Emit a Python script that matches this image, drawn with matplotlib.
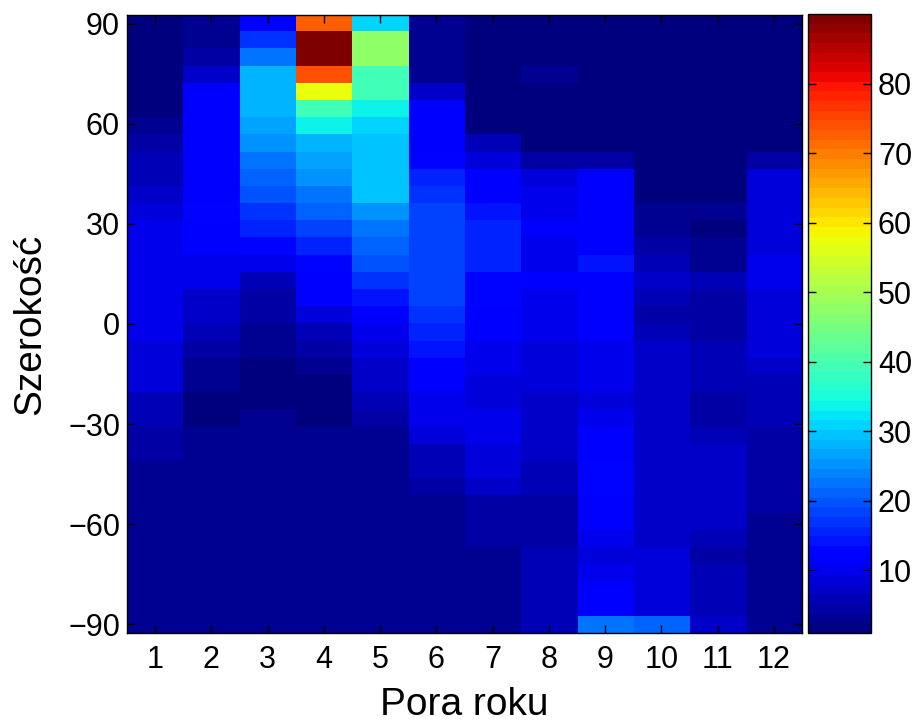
import numpy as np
import matplotlib
matplotlib.use('Agg')
from matplotlib import pyplot as plt

plt.rcParams['font.family'] = ['Liberation Sans', 'DejaVu Sans']

# months (columns) and latitude rows, top row = 90, bottom row = -90
months = list(range(1, 13))
lats = np.linspace(90, -90, 36)
yticks = [-90, -60, -30, 0, 30, 60, 90]
cticks = [10, 20, 30, 40, 50, 60, 70, 80]

# counts per latitude band (rows, 90 -> -90) and month (cols 1..12)
vals = np.array([
    [1.5, 2.5, 11.0, 72.5, 31.5, 2.5, 1.5, 1.5, 1.5, 1.5, 1.5, 1.5],
    [1.5, 3.5, 16.5, 90.0, 47.5, 3.0, 1.5, 1.5, 1.5, 1.5, 1.5, 1.5],
    [1.5, 5.0, 23.0, 89.0, 47.5, 3.0, 1.5, 1.5, 1.5, 1.5, 1.5, 1.5],
    [1.5, 7.5, 28.8, 74.0, 39.0, 3.0, 1.5, 3.5, 1.5, 1.5, 1.5, 1.5],
    [1.5, 12.0, 28.8, 58.0, 39.0, 7.0, 1.5, 1.5, 1.5, 1.5, 1.5, 1.5],
    [1.5, 12.0, 28.0, 39.0, 34.0, 11.0, 1.5, 1.5, 1.5, 1.5, 1.5, 1.5],
    [2.5, 12.0, 26.5, 34.0, 30.5, 11.0, 2.0, 1.5, 1.5, 1.5, 1.5, 1.5],
    [4.0, 12.0, 25.5, 28.8, 29.0, 11.0, 5.5, 1.5, 1.5, 1.5, 1.5, 1.5],
    [5.5, 12.0, 23.0, 27.0, 29.0, 13.0, 9.0, 4.0, 5.0, 1.5, 1.5, 4.5],
    [6.5, 12.0, 21.5, 25.5, 29.0, 15.5, 12.0, 9.0, 11.5, 1.5, 1.5, 8.5],
    [7.5, 12.0, 20.0, 23.0, 29.0, 16.5, 12.0, 9.5, 12.0, 1.5, 1.5, 8.5],
    [9.0, 12.5, 17.5, 21.0, 26.0, 18.0, 14.0, 10.5, 11.5, 3.5, 2.5, 8.5],
    [9.5, 12.0, 15.0, 18.0, 23.0, 18.0, 15.0, 11.0, 12.0, 2.5, 1.5, 9.0],
    [9.5, 11.0, 12.5, 15.0, 20.5, 18.0, 15.0, 9.5, 12.0, 5.0, 2.5, 9.0],
    [9.5, 10.5, 10.5, 13.5, 20.0, 19.0, 15.0, 9.5, 14.0, 6.0, 3.5, 9.5],
    [9.5, 10.0, 6.0, 12.0, 17.0, 19.0, 12.5, 11.0, 12.0, 7.0, 5.5, 9.5],
    [9.5, 7.5, 5.0, 11.0, 14.5, 18.0, 12.5, 10.0, 12.0, 6.0, 5.0, 9.0],
    [9.5, 7.0, 5.0, 8.0, 12.0, 17.0, 12.0, 9.5, 12.0, 5.0, 4.0, 8.5],
    [9.5, 5.5, 3.5, 6.5, 10.0, 16.0, 11.5, 9.5, 12.0, 5.5, 4.5, 8.0],
    [9.0, 4.5, 2.5, 4.0, 8.5, 14.5, 10.5, 9.0, 10.0, 7.0, 6.0, 8.0],
    [9.0, 3.0, 2.0, 2.5, 7.5, 12.0, 10.5, 8.5, 9.5, 7.0, 6.0, 7.5],
    [8.5, 3.0, 1.5, 1.5, 7.0, 11.0, 9.0, 9.0, 9.5, 7.0, 6.0, 6.5],
    [6.0, 2.0, 2.0, 1.5, 6.0, 10.0, 9.0, 7.5, 9.0, 7.0, 5.0, 6.0],
    [6.0, 2.0, 3.5, 2.0, 5.0, 10.0, 9.5, 7.5, 10.0, 7.0, 5.0, 5.5],
    [5.0, 2.5, 2.5, 2.5, 2.5, 9.0, 10.0, 7.0, 11.0, 7.0, 6.0, 5.0],
    [4.5, 2.5, 2.5, 2.5, 2.5, 6.0, 9.0, 7.5, 12.0, 7.5, 7.0, 4.5],
    [3.0, 2.5, 2.5, 2.5, 2.5, 5.5, 8.5, 6.0, 12.5, 7.5, 7.0, 4.5],
    [3.0, 2.5, 2.5, 2.5, 2.5, 4.0, 7.0, 6.0, 12.5, 7.5, 7.0, 4.5],
    [3.0, 2.5, 2.5, 2.5, 2.5, 3.0, 5.0, 5.0, 12.0, 7.5, 7.0, 4.5],
    [3.0, 2.5, 2.5, 2.5, 2.5, 2.5, 4.0, 5.0, 11.0, 7.0, 7.0, 3.5],
    [3.0, 2.5, 2.5, 2.5, 2.5, 2.5, 4.0, 5.0, 9.5, 7.5, 6.5, 2.5],
    [3.0, 2.5, 2.5, 2.5, 2.5, 2.5, 3.0, 5.5, 9.0, 8.5, 5.0, 2.5],
    [3.0, 2.5, 2.5, 2.5, 2.5, 2.5, 3.0, 5.5, 10.0, 8.5, 5.5, 2.5],
    [3.0, 2.5, 2.5, 2.5, 2.5, 2.5, 3.0, 5.5, 11.5, 9.0, 5.5, 2.5],
    [3.0, 2.5, 2.5, 2.5, 2.5, 2.5, 3.0, 5.5, 12.0, 9.0, 5.5, 2.5],
    [3.0, 2.5, 2.5, 2.5, 2.5, 2.5, 3.0, 5.5, 23.0, 20.5, 7.0, 2.5],
])

cmap = plt.get_cmap('jet', 64)
dy = (lats[0] - lats[1]) / 2

fig = plt.figure(figsize=(9.18, 7.27), dpi=100)
ax = fig.add_axes([0.1383, 0.1293, 0.7353, 0.8501])
im = ax.imshow(vals, cmap=cmap, vmin=1, vmax=90, aspect='auto', interpolation='nearest',
               extent=[months[0] - 0.5, months[-1] + 0.5, lats[-1] - dy, lats[0] + dy])

ax.set_xticks(months)
ax.set_yticks(yticks)
ax.tick_params(direction='in', top=True, right=True, length=6, width=1,
               labelsize=22, pad=9)
ax.tick_params(axis='y', pad=5)
ax.set_xlabel('Pora roku', fontsize=28, labelpad=8)
ax.set_ylabel('Szerokość', fontsize=28, labelpad=14)
for s in ax.spines.values():
    s.set_linewidth(1)

cax = fig.add_axes([0.8802, 0.1293, 0.0686, 0.8513])
cb = fig.colorbar(im, cax=cax, ticks=cticks)
cb.ax.tick_params(direction='in', left=True, right=True, length=6, width=1,
                  labelsize=22, pad=5)
cb.outline.set_linewidth(1)

fig.savefig('out.png', dpi=100)
